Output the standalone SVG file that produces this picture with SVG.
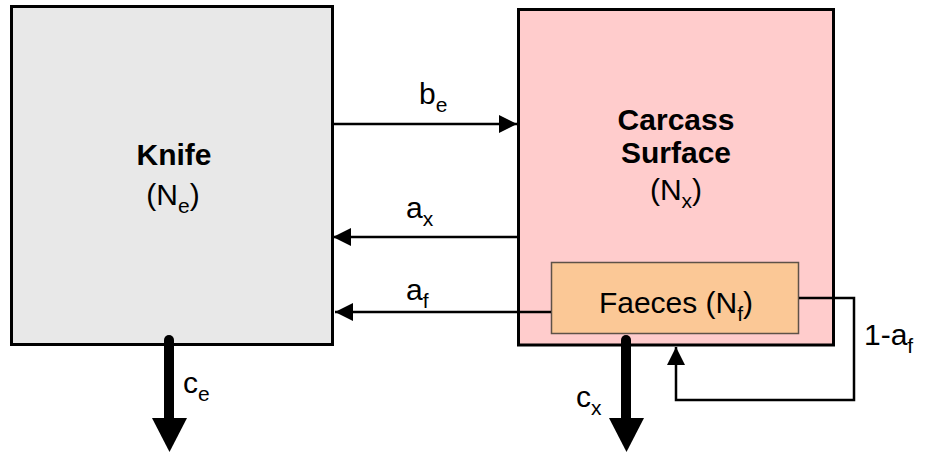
<svg xmlns="http://www.w3.org/2000/svg" width="931" height="452" viewBox="0 0 931 452">
<style>
text{font-family:"Liberation Sans",Arial,sans-serif;fill:#000}
.t{font-size:30px}
.b{font-size:30px;font-weight:bold}
.s{font-size:21px}
.box{stroke:#000;stroke-width:3}
.ln{stroke:#000;stroke-width:2.5;fill:none}
.thick{stroke:#000;stroke-width:10;stroke-linecap:round;fill:none}
</style>
<defs>
<marker id="ah" markerUnits="userSpaceOnUse" viewBox="0 0 18 18" refX="18" refY="9" markerWidth="18" markerHeight="18" orient="auto">
<path d="M0,0 L18,9 L0,18 Z" fill="#000"/>
</marker>
</defs>
<rect width="931" height="452" fill="#fff"/>
<g id="knife">
<rect class="box" x="11.5" y="6.5" width="321" height="338" fill="#e8e8e8"/>
<text class="b" x="174" y="165" text-anchor="middle">Knife</text>
<text class="t" x="173" y="205" text-anchor="middle">(N<tspan class="s" dy="8">e</tspan><tspan dy="-8">)</tspan></text>
</g>
<g id="carcass">
<rect class="box" x="518.5" y="9.5" width="315" height="335.5" fill="#ffcccc"/>
<text class="b" x="676" y="130" text-anchor="middle">Carcass</text>
<text class="b" x="676" y="163" text-anchor="middle">Surface</text>
<text class="t" x="676" y="200" text-anchor="middle">(N<tspan class="s" dy="8">x</tspan><tspan dy="-8">)</tspan></text>
</g>
<g id="faeces">
<rect x="551.5" y="262.5" width="247" height="71" fill="#fbc896" stroke="#5e5248" stroke-width="1.5"/>
<text class="t" x="676" y="313" text-anchor="middle">Faeces (N<tspan class="s" dy="8">f</tspan><tspan dy="-8">)</tspan></text>
</g>
<g id="connectors">
<line class="ln" x1="333" y1="124" x2="517" y2="124" marker-end="url(#ah)"/>
<line class="ln" x1="518" y1="237" x2="333" y2="237" marker-end="url(#ah)"/>
<line class="ln" x1="551" y1="312" x2="335" y2="312" marker-end="url(#ah)"/>
<polyline class="ln" points="799,298 854,298 854,400 676,400 676,347" marker-end="url(#ah)"/>
<line class="thick" x1="169" y1="340" x2="169" y2="420"/>
<path d="M152,418 L187,418 L169.5,452 Z" fill="#000"/>
<line class="thick" x1="626" y1="340" x2="626" y2="420"/>
<path d="M609,418 L644,418 L626.5,452 Z" fill="#000"/>
</g>
<g id="labels">
<text class="t" x="419" y="104">b<tspan class="s" dy="8">e</tspan></text>
<text class="t" x="406" y="218">a<tspan class="s" dy="8">x</tspan></text>
<text class="t" x="406" y="300">a<tspan class="s" dy="8">f</tspan></text>
<text class="t" x="864" y="345">1-a<tspan class="s" dy="8">f</tspan></text>
<text class="t" x="183" y="393">c<tspan class="s" dy="8">e</tspan></text>
<text class="t" x="576" y="407">c<tspan class="s" dy="8">x</tspan></text>
</g>
</svg>
